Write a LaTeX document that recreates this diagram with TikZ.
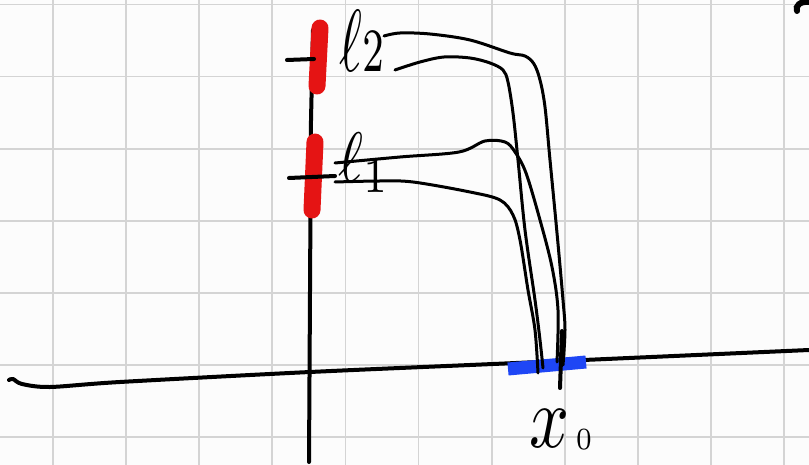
\documentclass[tikz,border=0pt]{standalone}
\usetikzlibrary{calc}
\definecolor{gridc}{HTML}{D4D4D4}
\definecolor{redm}{HTML}{E51414}
\definecolor{bluem}{HTML}{1E46F5}
\definecolor{paper}{HTML}{FCFCFC}
\begin{document}
\begin{tikzpicture}[x=1pt,y=-1pt,
  gridline/.style={draw=gridc,line width=1.8pt},
  axisline/.style={draw=black,line width=4pt,line cap=round,line join=round},
  curveline/.style={draw=black,line width=3pt,line cap=round,line join=round},
  redmark/.style={draw=redm,line width=17pt,line cap=round},
  bluemark/.style={draw=bluem,line width=13pt},
  lab/.style={inner sep=0pt,anchor=base west}]
\fill[paper] (0,0) rectangle (809,465);
\useasboundingbox (0,0) rectangle (809,465);
% grid
\foreach \k in {0,...,10}{\draw[gridline] ({53+73.1*\k},0) -- ({53+73.1*\k},465);}
\foreach \k in {0,...,6}{\draw[gridline] (0,{4.5+72.1*\k}) -- (809,{4.5+72.1*\k});}
% horizontal axis
\draw[axisline] plot[smooth,tension=0.5] coordinates {(9,380) (13,379) (22,384) (50,387) (120,382) (310,372) (516,363) (809,350)};
% blue mark
\draw[bluemark] (508,369) -- (586,362);
% vertical axis
\draw[axisline] (313,30) -- (311,120) -- (309,462);
% red marks
\draw[redmark] (320,28) -- (317,86);
\draw[redmark] (315,142) -- (312,210);
% ticks
\coordinate (t2a) at (287,60); \coordinate (t2b) at (314,59);
\coordinate (t1a) at (289,178); \coordinate (t1b) at (335,176);
\draw[axisline] (t2a) -- (t2b);
\draw[axisline] (t1a) -- (t1b);
% labels
\node[lab,xscale=5.5,yscale=8.8] (l2) at (338,72) {$\ell$\raisebox{0pt}{$\scriptstyle 2$}};
\node[lab,xscale=6,yscale=7] (l1) at (337,182) {$\ell_1$};
\node[lab,xscale=7,yscale=8.8] (x0) at (528,447) {$x$\hspace{0.9pt}\raisebox{-0.3pt}{\fontsize{3.5}{4}\selectfont 0}};
% curve end points
\coordinate (a2) at (384,36); \coordinate (b2) at (395,70);
\coordinate (a1) at (335,163); \coordinate (b1) at (335,182);
\coordinate (p0) at (563,365); \coordinate (q0) at (543,368);
\coordinate (r0) at (557,362); \coordinate (s0) at (538,373);
% curves
\draw[curveline] plot[smooth,tension=0.55] coordinates {(a2) (400,33) (430,34) (470,40) (510,53) (525,56) (534,64) (540,80) (545,107) (550,160) (557,233) (563,300) (565,330) (p0)};
\draw[curveline] plot[smooth,tension=0.55] coordinates {(b2) (420,62) (444,57) (470,58) (490,63) (503,70) (508,82) (513,113) (518,160) (525,230) (535,300) (540,340) (q0)};
\draw[curveline] plot[smooth,tension=0.55] coordinates {(a1) (400,157) (459,152) (485,141) (505,142) (515,152) (526,173) (540,220) (552,267) (558,310) (r0)};
\draw[curveline] plot[smooth,tension=0.55] coordinates {(b1) (380,181) (413,182) (470,192) (500,200) (513,215) (520,240) (528,290) (535,330) (s0)};
% x0 tick
\coordinate (v0a) at (562,331); \coordinate (v0b) at (560,388);
\draw[axisline] (v0a) -- (v0b);
% fragment at top right
\draw[black,line width=6pt,line cap=round] (809,2) .. controls (800,1) and (795,6) .. (797,11);
\end{tikzpicture}
\end{document}
